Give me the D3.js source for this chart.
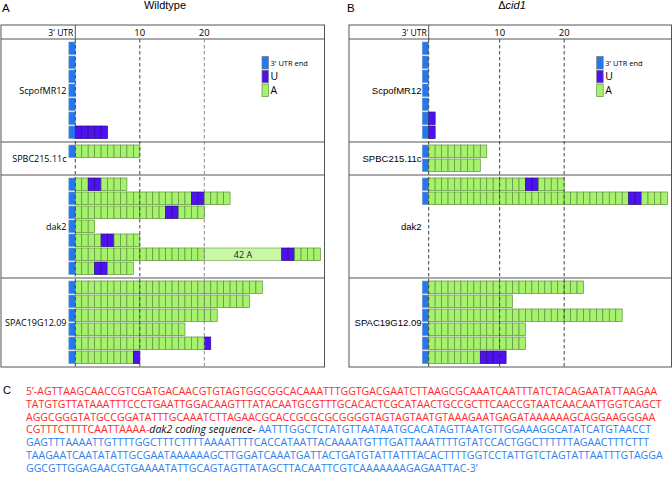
<!DOCTYPE html>
<html>
<head>
<meta charset="utf-8">
<script src="https://cdn.jsdelivr.net/npm/d3@7"></script>
<style>
  body { margin: 0; background: #fff; }
  text { font-family: 'Open Sans', sans-serif; }
</style>
</head>
<body>
<script>

var genes = ['ScpofMR12', 'SPBC215.11c', 'dak2', 'SPAC19G12.09'];
var slotCount = [7, 2, 7, 6];

// tails after the 3' UTR end, run-length: "18A 2U" ; "42a" = collapsed stretch of 42 A
var wildtypeReads = [
  ['', '', '', '', '', '', '5U'],
  ['10A'],
  ['2A 2U 4A', '18A 2U 4A', '14A 2U 4A', '3A', '4A 2U 4A', '20A 42a 2U 4A', '3A 2U 4A'],
  ['29A', '27A', '22A', '17A', '20A 1U', '9A 1U']
];
var cid1Reads = [
  ['', '', '', '', '', '1U', '1U'],
  ['9A', '8A'],
  ['15A 2U 4A', '31A 2U 4A'],
  ['24A', '13A', '30A', '15A', '15A', '8A 4U']
];
var collapsedCells = 12;

var tickLabels = ['10', '20'];
var wildtypeTicks = [10, 20];
var cid1Ticks = [11, 21];   // dashed guides sit one cell further right in panel B

var legendKeys = ["3' UTR end", 'U', 'A'];

var seqLines = [
  [['5\u2019-AGTTAAGCAACCGTCGATGACAACGTGTAGTGGCGGCACAAATTTGGTGACGAATCTTAAGCGCAAATCAATTTATCTACAGAATATTAAGAA', 'utr5']],
  [['TATGTGTTATAAATTTCCCTGAATTGGACAAGTTTATACAATGCGTTTGCACACTCGCATAACTGCCGCTTCAACCGTAATCAACAATTGGTCAGCT', 'utr5']],
  [['AGGCGGGTATGCCGGATATTTGCAAATCTTAGAACGCACCGCGCGCGGGGTAGTAGTAATGTAAAGAATGAGATAAAAAAGCAGGAAGGGAA', 'utr5']],
  [['CGTTTCTTTTCAATTAAAA-', 'utr5'], ['dak2 coding sequence-', 'cds'], [' AATTTGGCTCTATGTTAATAATGCACATAGTTAATGTTGGAAAGGCATATCATGTAACCT', 'utr3']],
  [['GAGTTTAAAATTGTTTTGGCTTTCTTTTAAAATTTTCACCATAATTACAAAATGTTTGATTAAATTTTGTATCCACTGGCTTTTTTAGAACTTTCTTT', 'utr3']],
  [['TAAGAATCAATATATTGCGAATAAAAAAGCTTGGATCAAATGATTACTGATGTATTATTTACACTTTTGGTCCTATTGTCTAGTATTAATTTGTAGGA', 'utr3']],
  [['GGCGTTGGAGAACGTGAAAATATTGCAGTAGTTATAGCTTACAATTCGTCAAAAAAAGAGAATTAC-3\u2019', 'utr3']]
];

var fills = { E: '#2179f2', U: '#4d12ee', A: '#a6f26c', a: '#c8f7a6' };
var strokes = { E: '#7c98c0', U: '#2c0a96', A: '#5f8f40', a: '#7aa85a' };
var seqColor = { utr5: '#ff2a2a', cds: '#111', utr3: '#2f7ff0' };

var cell = 6.45;
var rowPitch = 14, secPad = 5;
var boxTop = 25, headBottom = 39;

var sectionTops = [];
var acc = headBottom;
slotCount.forEach(function(n) { sectionTops.push(acc); acc += n * rowPitch + secPad; });
var boxBottom = acc;

var svg = d3.select('body').append('svg')
  .attr('width', 672).attr('height', 483);

function parseTail(s) {
  var segs = [], pos = 0;
  if (!s) return segs;
  s.split(' ').forEach(function(tok) {
    var n = +tok.slice(0, -1), k = tok.slice(-1);
    if (k === 'a') {
      segs.push({ kind: 'a', start: pos, len: collapsedCells, label: n + ' A' });
      pos += collapsedCells;
    } else {
      for (var i = 0; i < n; i++) segs.push({ kind: k, start: pos + i, len: 1 });
      pos += n;
    }
  });
  return segs;
}

function drawPanel(p, reads, ticks) {
  var g = svg.append('g');
  var x = d3.scaleLinear().domain([0, 10]).range([p.zero, p.zero + 10 * cell]);

  // letter + title
  g.append('text').attr('x', p.letterX).attr('y', 12)
    .style('font-family', 'Liberation Sans, Arial, sans-serif').style('font-size', '11.5px').text(p.letter);
  var t = g.append('text').attr('x', p.titleX).attr('y', 9).attr('text-anchor', 'middle')
    .style('font-family', 'Liberation Sans, Arial, sans-serif').style('font-size', '11px');
  p.title.forEach(function(part) {
    t.append('tspan').style('font-style', part[1] ? 'italic' : 'normal').text(part[0]);
  });

  // frame
  g.append('rect').attr('x', p.left).attr('y', boxTop)
    .attr('width', p.right - p.left).attr('height', boxBottom - boxTop)
    .attr('fill', 'none').attr('stroke', '#555').attr('stroke-width', 1);
  g.append('line').attr('x1', p.left).attr('x2', p.right).attr('y1', headBottom).attr('y2', headBottom)
    .attr('stroke', '#555').attr('stroke-width', 1.2);
  sectionTops.slice(1).forEach(function(y) {
    g.append('line').attr('x1', p.left).attr('x2', p.right).attr('y1', y).attr('y2', y)
      .attr('stroke', '#555').attr('stroke-width', 1.2);
  });
  g.append('line').attr('x1', x(0)).attr('x2', x(0)).attr('y1', boxTop).attr('y2', headBottom)
    .attr('stroke', '#555');

  // header
  g.append('text').attr('x', x(0) - 2).attr('y', 36).attr('text-anchor', 'end')
    .style('font-size', '8.5px').text("3' UTR");
  ticks.forEach(function(v, i) {
    g.append('text').attr('x', x(v)).attr('y', 36).attr('text-anchor', 'middle')
      .style('font-size', '9.5px').text(tickLabels[i]);
  });

  // reads
  reads.forEach(function(rows, gi) {
    var top = sectionTops[gi];
    g.append('text').attr('x', p.labelX).attr('y', top + (slotCount[gi] * rowPitch + secPad) / 2 + 3.5)
      .attr('text-anchor', 'end').style('font-family', p.labelFont).style('font-size', p.labelSize)
      .text(genes[gi]);
    rows.forEach(function(tail, ri) {
      var y = top + 3 + ri * rowPitch;
      var row = g.append('g');
      row.append('rect').attr('x', x(-1)).attr('y', y).attr('width', x(0) - x(-1)).attr('height', 12.6)
        .attr('fill', fills.E).attr('stroke', strokes.E).attr('stroke-width', 0.6);
      var segs = parseTail(tail);
      row.selectAll('rect.c').data(segs).enter().append('rect')
        .attr('class', 'c')
        .attr('x', function(d) { return x(d.start); })
        .attr('y', y)
        .attr('width', function(d) { return x(d.start + d.len) - x(d.start); })
        .attr('height', 12.6)
        .attr('fill', function(d) { return fills[d.kind]; })
        .attr('stroke', function(d) { return strokes[d.kind]; })
        .attr('stroke-width', 0.7);
      segs.filter(function(d) { return d.label; }).forEach(function(d) {
        row.append('text').attr('x', x(d.start + d.len / 2)).attr('y', y + 9.6)
          .attr('text-anchor', 'middle').style('font-size', '9px').attr('fill', '#222').text(d.label);
      });
    });
  });

  // dashed guides on top
  [0].concat(ticks).forEach(function(v, i) {
    g.append('line').attr('x1', x(v)).attr('x2', x(v)).attr('y1', headBottom).attr('y2', boxBottom)
      .attr('stroke', (p.letter === 'A' && i === 2) ? '#888' : '#444')
      .attr('stroke-width', 1).attr('stroke-dasharray', '3.5,2.5');
  });

  // legend
  legendKeys.forEach(function(k, i) {
    var ly = 56.5 + i * 13.8;
    g.append('rect').attr('x', p.legendX).attr('y', ly).attr('width', 6.5).attr('height', 12.5)
      .attr('fill', fills['EUA'[i]]).attr('stroke', i === 2 ? strokes.A : '#777').attr('stroke-width', 0.7);
    g.append('text').attr('x', p.legendX + 8.5).attr('y', ly + (i === 0 ? 9 : 10))
      .style('font-size', i === 0 ? '7.5px' : '10.5px').text(k);
  });
}

drawPanel({ letter: 'A', letterX: 2, title: [['Wildtype', false]], titleX: 165,
  left: 1, right: 324.5, zero: 75.3, labelX: 66.5, labelFont: 'Open Sans, sans-serif', labelSize: '9px',
  legendX: 262 }, wildtypeReads, wildtypeTicks);
drawPanel({ letter: 'B', letterX: 347, title: [['\u0394', false], ['cid1', true]], titleX: 512,
  left: 349, right: 671.5, zero: 428.7, labelX: 421.5, labelFont: 'Liberation Sans, Arial, sans-serif', labelSize: '9.5px',
  legendX: 596.7 }, cid1Reads, cid1Ticks);

// panel C sequence
svg.append('text').attr('x', 3).attr('y', 394)
  .style('font-family', 'Liberation Sans, Arial, sans-serif').style('font-size', '11px').text('C');
var seq = svg.append('g');
var seqTexts = [];
seqLines.forEach(function(parts, i) {
  var t = seq.append('text').attr('x', 26).attr('y', 395 + i * 12.8).style('font-size', '10px');
  parts.forEach(function(pt) {
    t.append('tspan').attr('fill', seqColor[pt[1]])
      .style('font-style', pt[1] === 'cds' ? 'italic' : 'normal')
      .text(pt[0]);
  });
  seqTexts.push(t);
});
// size the block so the first line runs to the right margin, as in the figure
var w0 = seqTexts[0].node().getComputedTextLength();
var fs = 10 * 632 / w0;
seqTexts.forEach(function(t) { t.style('font-size', fs + 'px'); });

</script>
</body>
</html>
